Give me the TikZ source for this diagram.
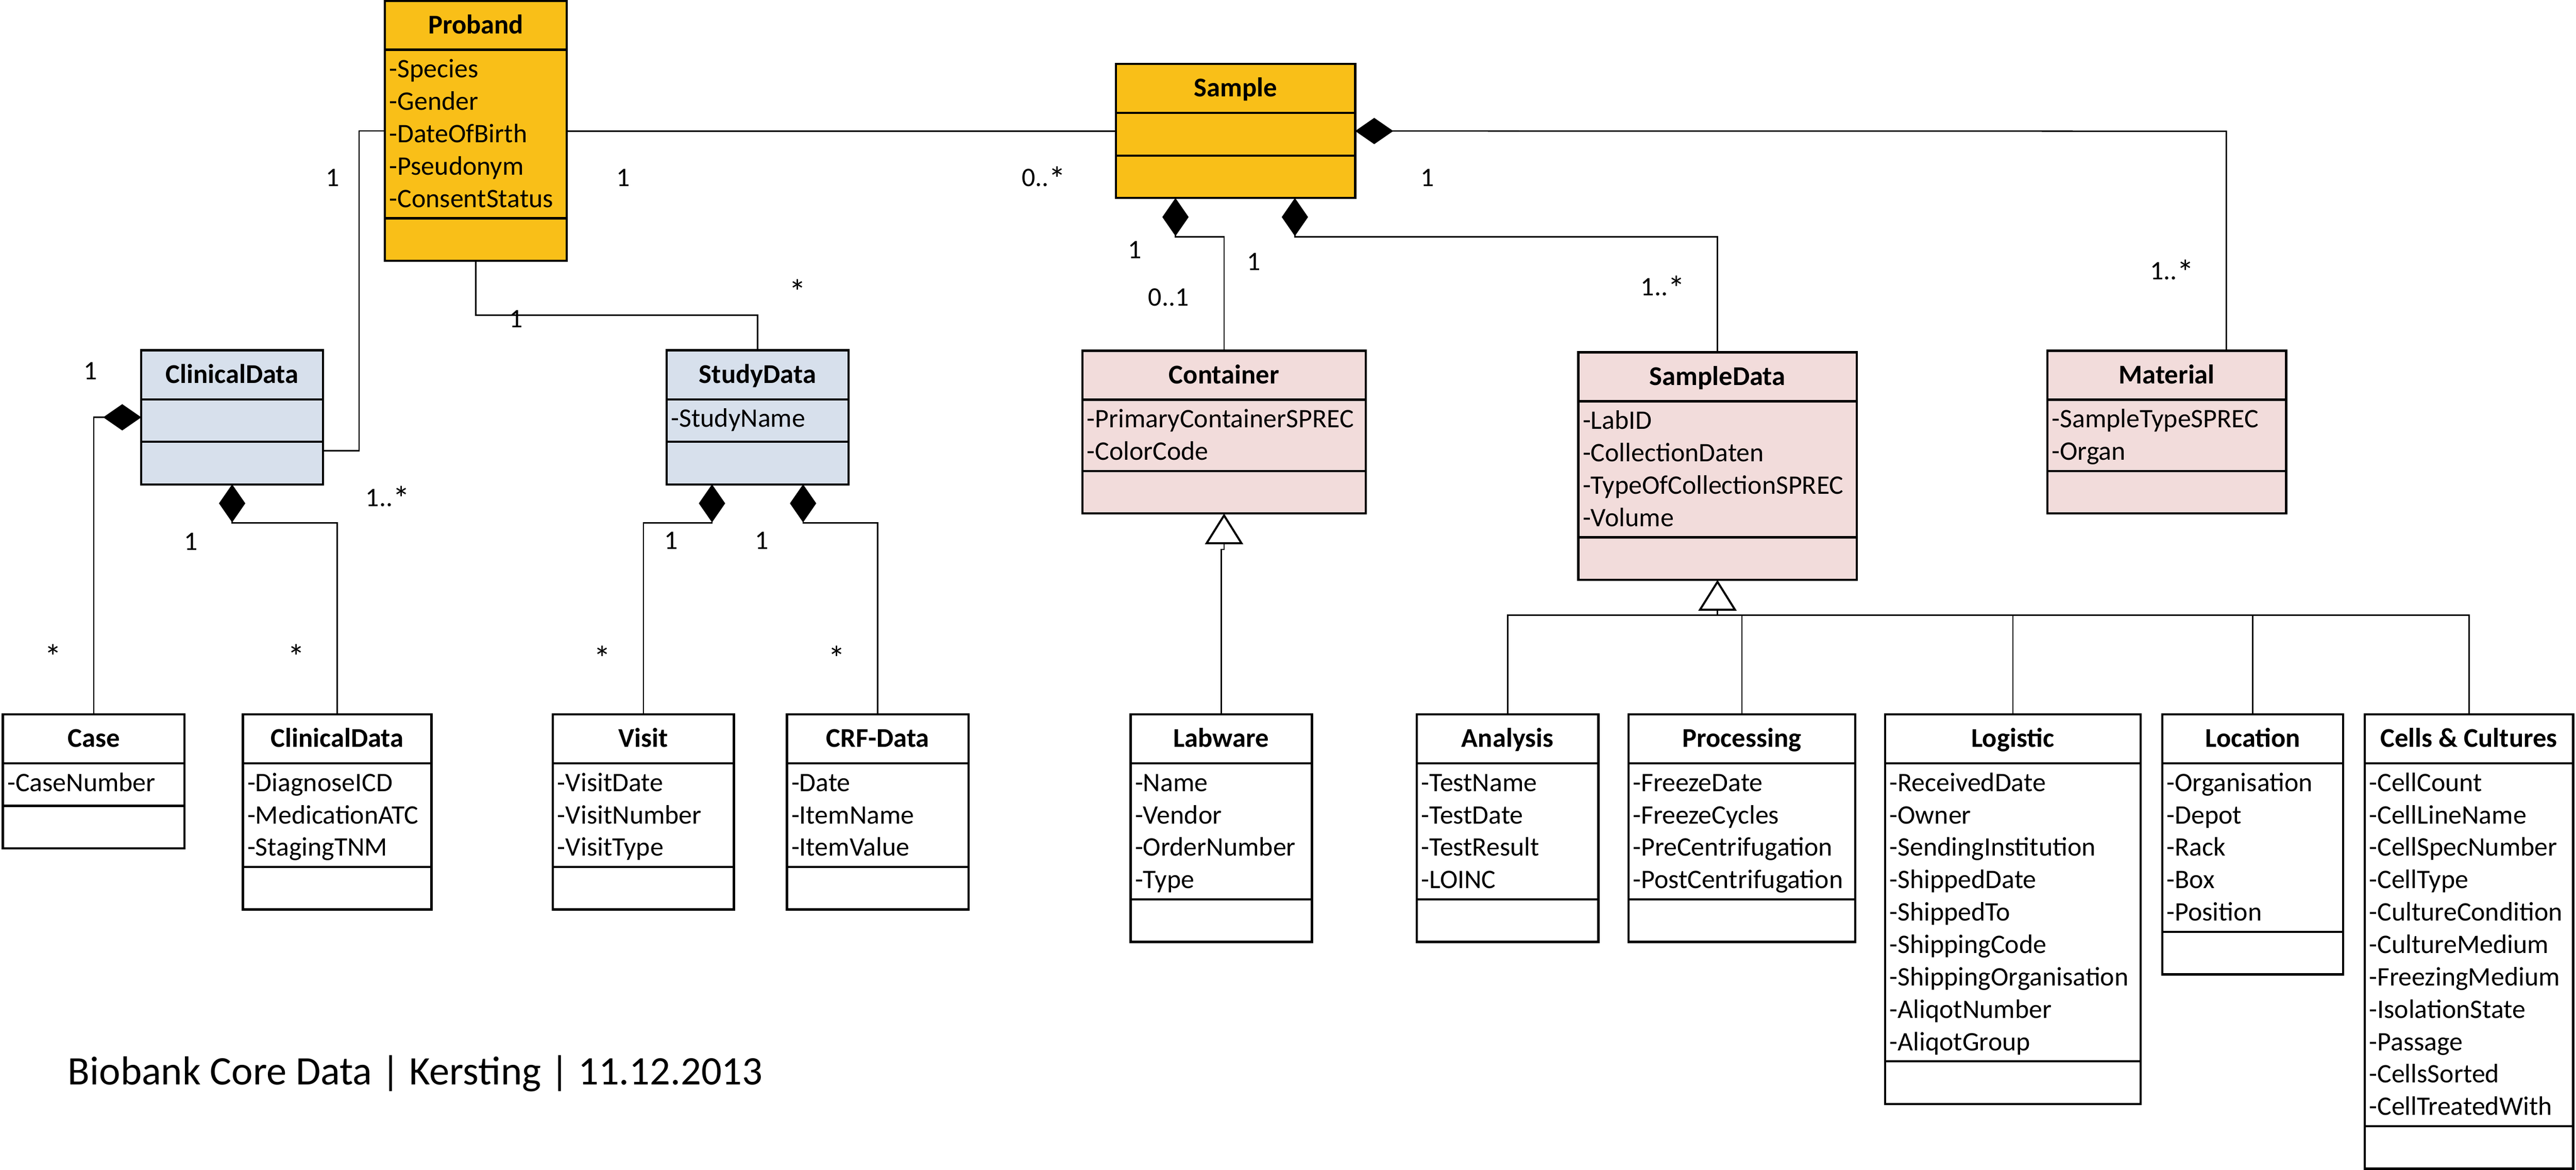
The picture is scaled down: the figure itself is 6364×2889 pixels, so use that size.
\documentclass[tikz,border=0pt]{standalone}
\usepackage{fontspec}
\setmainfont{Carlito}
\usetikzlibrary{arrows.meta}
\definecolor{orangeF}{HTML}{F9BF18}
\definecolor{blueF}{HTML}{D7E0EC}
\definecolor{pinkF}{HTML}{F2DCDB}
\newcommand\bigast{{\fontsize{8.5}{8}\selectfont *}}
\newcommand\inast{\raisebox{-1.1pt}{\bigast}}
\tikzset{
  classbox/.style={draw, line width=0.55pt, inner sep=0pt, outer sep=0pt, anchor=north west},
  sepline/.style={line width=0.55pt},
  titletext/.style={anchor=base, inner sep=0pt, font=\fontsize{6.7}{8}\selectfont\bfseries},
  attrtext/.style={anchor=base west, inner sep=0pt, font=\fontsize{6.6}{8}\selectfont},
  mult/.style={anchor=base, inner sep=0pt, font=\fontsize{6.6}{8}\selectfont},
  conn/.style={line width=0.32pt},
  comp/.style={{Diamond[length=9.4pt 0 0,width=6.5pt 0 0]}-},
  gen/.style={-{Triangle[open,length=7.6pt 0 0,width=9.4pt 0 0,line width=0.5pt]}}
}
\newcommand\umlclass[8]{%
  \pgfmathsetmacro\ya{#3+121}%
  \pgfmathsetmacro\yb{\ya+max(105,80*#5+16)}%
  \pgfmathsetmacro\yc{\yb+105}%
  \pgfmathsetmacro\bw{(#4-#2)*0.1}%
  \pgfmathsetmacro\bh{(\yc-#3)*0.1}%
  \node[classbox, fill=#6, minimum width=\bw pt, minimum height=\bh pt] (#1) at (#2,#3) {};
  \draw[sepline] (#2,\ya) -- (#4,\ya);
  \draw[sepline] (#2,\yb) -- (#4,\yb);
  \node[titletext] (#1-t) at ({(#2+#4)/2},{#3+81}) {#7};
  \ifnum#5>0\relax
    \foreach \a [count=\i] in {#8} {\node[attrtext] (#1-a\i) at ({#2+9},{\ya+69+80*(\i-1)}) {\a};}
  \fi
}
\begin{document}
\begin{tikzpicture}[x=0.1pt, y=-0.1pt]
\useasboundingbox (0,0) rectangle (6364,2889);
\fill[white] (0,0) rectangle (6364,2889);

% classes
\umlclass{proband}{951}{2}{1400}{5}{orangeF}{Proband}{-Species,-Gender,-DateOfBirth,-Pseudonym,-ConsentStatus}
\umlclass{sample}{2757}{158}{3348}{0}{orangeF}{Sample}{}
\umlclass{cd1}{349}{865}{798}{0}{blueF}{ClinicalData}{}
\umlclass{sd}{1647}{865}{2096}{1}{blueF}{StudyData}{-StudyName}
\umlclass{container}{2674}{866}{3374}{2}{pinkF}{Container}{-PrimaryContainerSPREC,-ColorCode}
\umlclass{sampledata}{3899}{870}{4587}{4}{pinkF}{SampleData}{-LabID,-CollectionDaten,-TypeOfCollectionSPREC,-Volume}
\umlclass{material}{5058}{866}{5648}{2}{pinkF}{Material}{-SampleTypeSPREC,-Organ}
\umlclass{case}{7}{1764}{456}{1}{white}{Case}{-CaseNumber}
\umlclass{cd2}{600}{1764}{1066}{3}{white}{ClinicalData}{-DiagnoseICD,-MedicationATC,-StagingTNM}
\umlclass{visit}{1366}{1764}{1813}{3}{white}{Visit}{-VisitDate,-VisitNumber,-VisitType}
\umlclass{crf}{1944}{1764}{2393}{3}{white}{CRF-Data}{-Date,-ItemName,-ItemValue}
\umlclass{labware}{2793}{1764}{3241}{4}{white}{Labware}{-Name,-Vendor,-OrderNumber,-Type}
\umlclass{analysis}{3500}{1764}{3949}{4}{white}{Analysis}{-TestName,-TestDate,-TestResult,-LOINC}
\umlclass{processing}{4023}{1764}{4583}{4}{white}{Processing}{-FreezeDate,-FreezeCycles,-PreCentrifugation,-PostCentrifugation}
\umlclass{logistic}{4657}{1764}{5288}{9}{white}{Logistic}{-ReceivedDate,-Owner,-SendingInstitution,-ShippedDate,-ShippedTo,-ShippingCode,-ShippingOrganisation,-AliqotNumber,-AliqotGroup}
\umlclass{location}{5342}{1764}{5789}{5}{white}{Location}{-Organisation,-Depot,-Rack,-Box,-Position}
\umlclass{cells}{5842}{1764}{6357}{11}{white}{Cells \& Cultures}{-CellCount,-CellLineName,-CellSpecNumber,-CellType,-CultureCondition,-CultureMedium,-FreezingMedium,-IsolationState,-Passage,-CellsSorted,-CellTreatedWith}

% bend points
\coordinate (k1) at (887,323);
\coordinate (k2) at (887,1113);
\coordinate (k3) at (2000,324);
\coordinate (k4) at (1500,778);
\coordinate (k5) at (5500,324);
\coordinate (kj) at (3017,1357);
\coordinate (kb) at (4243,1519);

% associations
\draw[conn] (k1 -| proband.west) -- (k1) -- (k2) -- (k2 -| cd1.east);
\draw[conn] (proband.east |- k3) -- (sample.west |- k3);
\draw[conn] (proband.south) |- (k4) -| (sd.north);

% compositions
\draw[conn,comp] (sample.east) -- (k5) -- (k5 |- material.north);
\draw[conn,comp] ([xshift=-14.85pt]sample.south) -- ++(0,96) -| (container.north);
\draw[conn,comp] ([xshift=14.65pt]sample.south) -- ++(0,96) -| (sampledata.north);
\draw[conn,comp] (cd1.west) -| (case.north);
\draw[conn,comp] (cd1.south) -- ++(0,95) -| (cd2.north);
\draw[conn,comp] ([xshift=-11.25pt]sd.south) -- ++(0,95) -| (visit.north);
\draw[conn,comp] ([xshift=11.25pt]sd.south) -- ++(0,95) -| (crf.north);

% generalizations
\draw[conn,gen] (labware.north) -- (kj) -- (kj -| container.south) -- (container.south);
\draw[conn,gen] (sampledata.south |- kb) -- (sampledata.south);
\draw[conn] (analysis.north) |- (kb) -| (cells.north);
\draw[conn] (processing.north) -- (processing.north |- kb);
\draw[conn] (logistic.north) -- (logistic.north |- kb);
\draw[conn] (location.north) -- (location.north |- kb);

% multiplicities
\node[mult] (m1) at (822,460) {1};
\node[mult] (m2) at (1540,460) {1};
\node[mult] (m3) at (2579,460) {0..\inast};
\node[mult] (m4) at (3527,460) {1};
\node[mult] (m5) at (5366,691) {1..\inast};
\node[mult] (m6) at (1275,809) {1};
\node[mult] (m7) at (1971,750) {\bigast};
\node[mult] (m8) at (223,937) {1};
\node[mult] (m9) at (958,1250) {1..\inast};
\node[mult] (m10) at (472,1359) {1};
\node[mult] (m11) at (131,1652) {\bigast};
\node[mult] (m12) at (732,1652) {\bigast};
\node[mult] (m13) at (1488,1655) {\bigast};
\node[mult] (m14) at (2067,1655) {\bigast};
\node[mult] (m15) at (1658,1356) {1};
\node[mult] (m16) at (1882,1356) {1};
\node[mult] (m17) at (2803,638) {1};
\node[mult] (m18) at (3098,667) {1};
\node[mult] (m19) at (2887,756) {0..1};
\node[mult] (m20) at (4108,730) {1..\inast};

% footer
\node[anchor=base west, inner sep=0pt, font=\fontsize{10}{12}\selectfont] (footer) at (166,2679) {Biobank Core Data | Kersting | 11.12.2013};
\end{tikzpicture}
\end{document}
